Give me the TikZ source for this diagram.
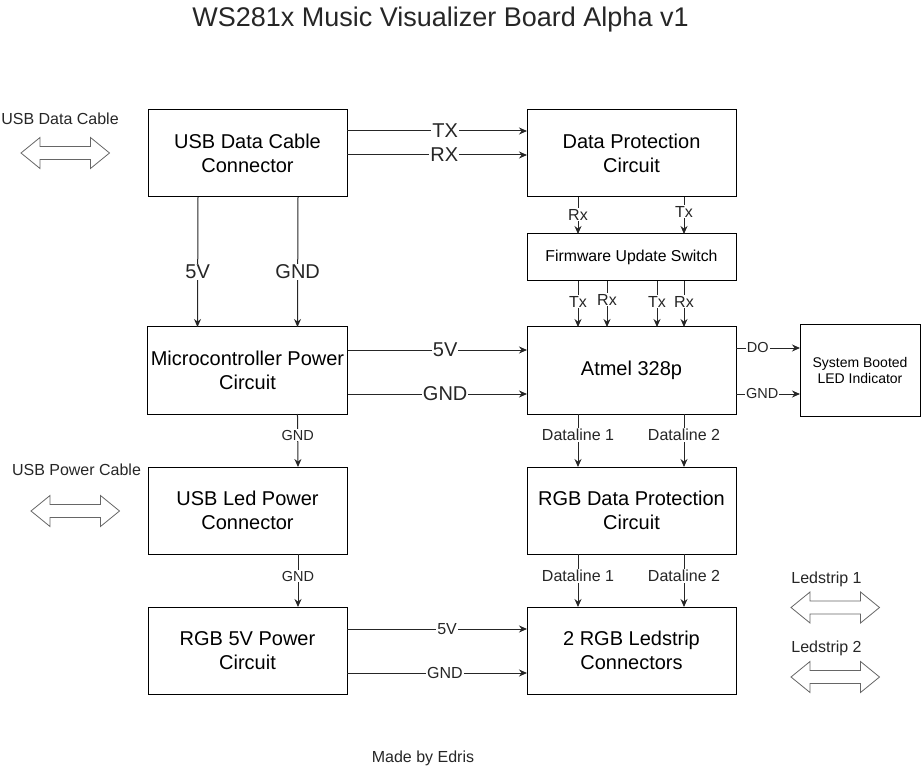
\documentclass[tikz,border=0pt]{standalone}
\usepackage{fontspec}
\setmainfont{Liberation Sans}
\usetikzlibrary{calc,arrows.meta}
\begin{document}
\begin{tikzpicture}[x=1pt,y=-1pt,
  box/.style={draw=black, line width=1pt, outer sep=0pt, align=center,
    font=\fontsize{20}{24}\selectfont},
  wbox/.style={box, minimum width=199pt, minimum height=87pt},
  rbox/.style={box, minimum width=209pt, minimum height=87pt},
  arr/.style={draw=black!85, line width=1pt, -{Stealth[length=8pt,width=7pt]}},
  lbl/.style={fill=white, inner sep=1pt, text=black!85},
  lblL/.style={lbl, font=\fontsize{20}{24}\selectfont},
  lblM/.style={lbl, font=\fontsize{16}{19}\selectfont},
  lblS/.style={lbl, font=\fontsize{14.5}{17}\selectfont},
  txt/.style={inner sep=0pt, text=black!85, font=\fontsize{16}{19}\selectfont},
  dbl/.pic={\draw[draw=black!60, line width=0.8pt, fill=white]
    (0,0) -- (19,-15.5) -- (19,-6.5) -- (69.5,-6.5) -- (69.5,-15.5) -- (88.5,0)
    -- (69.5,15.5) -- (69.5,6.5) -- (19,6.5) -- (19,15.5) -- cycle;}
]
\useasboundingbox (0,0) rectangle (921,767);

% title and footer
\node[inner sep=0pt, font=\fontsize{27}{32}\selectfont, text=black!85] (title) at (440.5,20) {WS281x Music Visualizer Board Alpha v1};
\node[txt] (made) at (423,758) {Made by Edris};

% boxes
\node[wbox] (usbdc) at (247.5,153.5) {USB Data Cable\\Connector};
\node[rbox] (dpc) at (631.5,153.5) {Data Protection\\Circuit};
\node[box, minimum width=209pt, minimum height=47pt, font=\fontsize{15.8}{18}\selectfont] (fus) at (631.5,257.5) {Firmware Update Switch};
\node[wbox] (mpc) at (247.5,370.5) {Microcontroller Power\\Circuit};
\node[rbox] (atmel) at (631.5,370.5) {Atmel 328p};
\node[box, minimum width=120pt, minimum height=91pt, font=\fontsize{14}{16.8}\selectfont] (led) at (860,370.5) {System Booted\\LED Indicator};
\node[wbox] (usblp) at (247.5,510.5) {USB Led Power\\Connector};
\node[rbox] (rgbdp) at (631.5,510.5) {RGB Data Protection\\Circuit};
\node[wbox] (rgb5v) at (247.5,650.5) {RGB 5V Power\\Circuit};
\node[rbox] (rgbls) at (631.5,650.5) {2 RGB Ledstrip\\Connectors};

% cable labels and double arrows
\node[txt] (lusbd) at (60,119) {USB Data Cable};
\pic at (21,153) {dbl};
\node[txt] (lusbp) at (76.5,470) {USB Power Cable};
\pic at (31,511) {dbl};
\node[txt] (lls1) at (826.5,579) {Ledstrip 1};
\pic at (791,607.5) {dbl};
\node[txt] (lls2) at (826.5,648) {Ledstrip 2};
\pic at (791,677) {dbl};

% USB data -> data protection
\draw[arr] ($(usbdc.north east)+(0,21)$) -- ($(dpc.north west)+(0,21)$) node[lblL, pos=0.545] {TX};
\draw[arr] ($(usbdc.north east)+(0,45)$) -- ($(dpc.north west)+(0,45)$) node[lblL, pos=0.54] {RX};

% data protection -> firmware switch
\draw[arr] ($(dpc.south west)+(51,0)$) -- ($(fus.north west)+(51,0)$) node[lblM, pos=0.48] {Rx};
\draw[arr] ($(dpc.south west)+(157,0)$) -- ($(fus.north west)+(157,0)$) node[lblM, pos=0.4] {Tx};

% firmware switch -> atmel
\draw[arr] ($(fus.south west)+(51,0)$) -- ($(atmel.north west)+(51,0)$) node[lblM, pos=0.45] {Tx};
\draw[arr] ($(fus.south west)+(80,0)$) -- ($(atmel.north west)+(80,0)$) node[lblM, pos=0.41] {Rx};
\draw[arr] ($(fus.south west)+(130,0)$) -- ($(atmel.north west)+(130,0)$) node[lblM, pos=0.45] {Tx};
\draw[arr] ($(fus.south west)+(157,0)$) -- ($(atmel.north west)+(157,0)$) node[lblM, pos=0.45] {Rx};

% usb data -> micro power
\draw[arr] ($(usbdc.south west)+(50,0)$) -- ($(mpc.north west)+(50,0)$) node[lblL, pos=0.577] {5V};
\draw[arr] ($(usbdc.south west)+(150,0)$) -- ($(mpc.north west)+(150,0)$) node[lblL, pos=0.577] {GND};

% micro power -> atmel
\draw[arr] ($(mpc.north east)+(0,23)$) -- ($(atmel.north west)+(0,23)$) node[lblL, pos=0.544] {5V};
\draw[arr] ($(mpc.north east)+(0,67)$) -- ($(atmel.north west)+(0,67)$) node[lblL, pos=0.544] {GND};

% atmel -> led indicator
\draw[arr] ($(atmel.north east)+(0,21)$) -- ($(atmel.north east)+(64,21)$) node[lblS, pos=0.34] {DO};
\draw[arr] ($(atmel.north east)+(0,67)$) -- ($(atmel.north east)+(64,67)$) node[lblS, pos=0.41] {GND};

% micro power -> usb led power
\draw[arr] ($(mpc.south west)+(150,0)$) -- ($(usblp.north west)+(150,0)$) node[lblS, pos=0.4] {GND};

% atmel -> rgb data protection
\draw[arr] ($(atmel.south west)+(51,0)$) -- ($(rgbdp.north west)+(51,0)$) node[lblM, pos=0.4] {Dataline 1};
\draw[arr] ($(atmel.south west)+(157,0)$) -- ($(rgbdp.north west)+(157,0)$) node[lblM, pos=0.4] {Dataline 2};

% usb led power -> rgb 5v
\draw[arr] ($(usblp.south west)+(150,0)$) -- ($(rgb5v.north west)+(150,0)$) node[lblS, pos=0.42] {GND};

% rgb data protection -> ledstrip connectors
\draw[arr] ($(rgbdp.south west)+(51,0)$) -- ($(rgbls.north west)+(51,0)$) node[lblM, pos=0.42] {Dataline 1};
\draw[arr] ($(rgbdp.south west)+(157,0)$) -- ($(rgbls.north west)+(157,0)$) node[lblM, pos=0.42] {Dataline 2};

% rgb 5v -> ledstrip connectors
\draw[arr] ($(rgb5v.north east)+(0,22)$) -- ($(rgbls.north west)+(0,22)$) node[lblM, pos=0.556] {5V};
\draw[arr] ($(rgb5v.north east)+(0,66)$) -- ($(rgbls.north west)+(0,66)$) node[lblM, pos=0.544] {GND};
\end{tikzpicture}
\end{document}
